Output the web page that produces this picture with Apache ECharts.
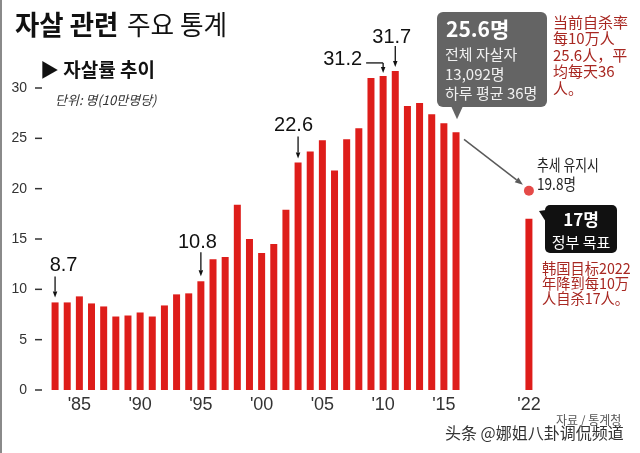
<!DOCTYPE html>
<html><head><meta charset="utf-8">
<script src="https://cdn.jsdelivr.net/npm/echarts@6/dist/echarts.min.js"></script>
<style>html,body{margin:0;padding:0;background:#fff}#c{width:640px;height:453px}</style>
</head><body><div id="c"></div>
<script>
// ---- data ----
const years = ['1983','1984','1985','1986','1987','1988','1989','1990','1991','1992',
  '1993','1994','1995','1996','1997','1998','1999','2000','2001','2002',
  '2003','2004','2005','2006','2007','2008','2009','2010','2011','2012',
  '2013','2014','2015','2016','2017','2018','2019','2020','2021','2022'];
const rates = [8.7,8.7,9.3,8.6,8.3,7.3,7.4,7.7,7.3,8.4,
  9.5,9.6,10.8,13.0,13.2,18.4,15.0,13.6,14.5,17.9,
  22.6,23.7,24.8,21.8,24.9,26.0,31.0,31.2,31.7,28.2,
  28.5,27.4,26.5,25.6,null,null,null,null,null,17.0];
const trendYear = '2022';
const trendValue = 19.8;
const yTicks = [0,5,10,15,20,25,30];
const xTickYears = ['1985','1990','1995','2000','2005','2010','2015','2022'];
const xTickLabels = ["'85","'90","'95","'00","'05","'10","'15","'22"];
const annotatedYears = ['1983','1995','2003','2011'];
const bracketYear = '2010';
const latestYear = '2016';

// ---- styles ----
const RED = '#de1d1a';
const NUM = '"Liberation Sans Narrow","Liberation Sans",Arial,sans-serif';
const KR = '"Noto Sans CJK KR","Noto Sans",sans-serif';
const SC = '"Noto Sans CJK SC",sans-serif';
const annoStyle = {
  '1983': {dx: 8.5, textGap: 37, arrowTop: 26, arrowGap: 5},
  '1995': {dx: -3.5, textGap: 38.5, arrowTop: 29, arrowGap: 5},
  '2003': {dx: -4.5, textGap: 37, arrowTop: 26, arrowGap: 4},
  '2011': {dx: -3.5, textGap: 33.5, arrowTop: 25, arrowGap: 4}
};

const chart = echarts.init(document.getElementById('c'), null, {renderer: 'canvas'});
chart.setOption({
  animation: false,
  backgroundColor: '#fff',
  grid: {left: 49, right: 105, top: 88, bottom: 63},
  xAxis: {
    type: 'category', data: years,
    axisLine: {show: false}, axisTick: {show: false},
    axisLabel: {
      interval: (i, v) => xTickYears.includes(v),
      formatter: v => xTickLabels[xTickYears.indexOf(v)] || '',
      fontFamily: NUM, fontSize: 18, color: '#333', margin: 6
    }
  },
  yAxis: {
    type: 'value', min: yTicks[0], max: yTicks[yTicks.length - 1], interval: yTicks[1] - yTicks[0],
    splitLine: {show: false},
    axisLine: {show: false},
    axisTick: {show: false},
    axisLabel: {
      fontFamily: NUM, fontSize: 14, color: '#333', margin: 7,
      formatter: v => '{v|' + v + '}{d|}',
      rich: {
        v: {fontFamily: NUM, fontSize: 14, color: '#333', padding: [0, 8, 0, 0]},
        d: {width: 7, height: 1.5, backgroundColor: '#333'}
      }
    }
  },
  series: [
    {type: 'bar', data: rates, barWidth: 7, clip: false, itemStyle: {color: RED}},
    {type: 'scatter', data: [[trendYear, trendValue]], symbolSize: 10, itemStyle: {color: RED}, z: 5}
  ]
});

function P(y, v) { return chart.convertToPixel({gridIndex: 0}, [y, v]); }
function T(text, x, y, o) {
  o = o || {};
  return {type: 'text', x: x, y: y, scaleX: o.sx || 1, originX: 0, originY: 0, z: 20,
    style: {text: text, fill: o.fill || '#222',
      font: (o.style || '') + ' ' + (o.weight || 'normal') + ' ' + (o.size || 14) + 'px ' + (o.family || KR),
      textAlign: o.align || 'left', textVerticalAlign: 'middle'}};
}
function arrow(x1, y1, x2, y2, color, w, hl, hw) {
  const a = Math.atan2(y2 - y1, x2 - x1);
  const bx = x2 - hl * Math.cos(a), by = y2 - hl * Math.sin(a);
  const px = -Math.sin(a) * hw / 2, py = Math.cos(a) * hw / 2;
  return [
    {type: 'line', z: 20, shape: {x1: x1, y1: y1, x2: bx, y2: by}, style: {stroke: color, lineWidth: w}},
    {type: 'polygon', z: 20, shape: {points: [[x2, y2], [bx + px, by + py], [bx - px, by - py]]}, style: {fill: color}}
  ];
}

const g = [];
// left border
g.push({type: 'rect', shape: {x: 0, y: 0, width: 2, height: 453}, style: {fill: '#8a8a8a'}, z: 20});
// titles
g.push(T('자살 관련', 15, 25, {size: 27, weight: 'bold', sx: 0.98, fill: '#111'}));
g.push(T('주요 통계', 127, 25, {size: 27, weight: 'normal', sx: 0.95, fill: '#111'}));
g.push(T('▶ 자살률 추이', 40, 70, {size: 19, weight: 'bold', fill: '#111'}));
g.push(T('단위: 명(10만명당)', 55, 100, {size: 13, style: 'italic', fill: '#333'}));

// annotations with arrows
annotatedYears.forEach(y => {
  const v = rates[years.indexOf(y)];
  const s = annoStyle[y];
  const p = P(y, v);
  g.push(T(v.toFixed(1), p[0] + s.dx, p[1] - s.textGap, {size: 20, family: NUM, align: 'center', fill: '#111'}));
  g.push(...arrow(p[0], p[1] - s.arrowTop, p[0], p[1] - s.arrowGap, '#111', 1.3, 6, 4.5));
});
// bracket arrow 2010
(function () {
  const v = rates[years.indexOf(bracketYear)];
  const p = P(bracketYear, v);
  g.push(T(v.toFixed(1), p[0] - 21, p[1] - 16.5, {size: 20, family: NUM, align: 'right', fill: '#111'}));
  g.push({type: 'line', z: 20, shape: {x1: p[0] - 17, y1: p[1] - 13, x2: p[0], y2: p[1] - 13}, style: {stroke: '#111', lineWidth: 1.3}});
  g.push(...arrow(p[0], p[1] - 13, p[0], p[1] - 3, '#111', 1.3, 6, 4.5));
})();

// gray callout for latest year
(function () {
  const v = rates[years.indexOf(latestYear)];
  const p = P(latestYear, v);
  const tipX = p[0] + 1, tipY = p[1] - 13;
  const bx = 437, by = 12, bw = 110, bh = 95;
  g.push({type: 'rect', z: 15, shape: {x: bx, y: by, width: bw, height: bh, r: 6}, style: {fill: '#646464'}});
  g.push({type: 'polygon', z: 15, shape: {points: [[tipX - 6, by + bh - 1], [tipX + 6, by + bh - 1], [tipX, tipY]]}, style: {fill: '#646464'}});
  g.push(T(v.toFixed(1) + '명', 446, 29, {size: 21, weight: 'bold', fill: '#fff'}));
  g.push(T('전체 자살자', 445, 54, {size: 15, fill: '#f0f0f0'}));
  g.push(T('13,092명', 445, 74, {size: 15, fill: '#f0f0f0'}));
  g.push(T('하루 평균 36명', 445, 93, {size: 15, fill: '#f0f0f0'}));
  // diagonal arrow to trend dot
  const q = P(trendYear, trendValue);
  g.push(...arrow(p[0] + 8, p[1] + 7, q[0] - 6, q[1] - 6, '#5a5a5a', 1.5, 8, 6));
})();

// trend text
g.push(T('추세 유지시', 537, 165, {size: 16, sx: 0.8, fill: '#222'}));
g.push(T(trendValue.toFixed(1) + '명', 537, 184, {size: 16, sx: 0.85, fill: '#222'}));

// black target callout
g.push({type: 'rect', z: 15, shape: {x: 545, y: 205, width: 72, height: 48, r: 5}, style: {fill: '#111'}});
g.push({type: 'polygon', z: 15, shape: {points: [[546, 210], [546, 222], [539, 211]]}, style: {fill: '#111'}});
g.push(T(rates[years.indexOf('2022')] + '명', 581, 220, {size: 17, weight: 'bold', align: 'center', fill: '#fff'}));
g.push(T('정부 목표', 581, 242, {size: 15, align: 'center', fill: '#fff'}));

// Chinese red notes
const RN = '#a82822';
['当前自杀率', '每10万人', '25.6人，平', '均每天36', '人。'].forEach((s, i) => {
  g.push(T(s, 553, 22 + i * 16.5, {size: 15, family: SC, fill: RN}));
});
['韩国目标2022', '年降到每10万', '人自杀17人。'].forEach((s, i) => {
  g.push(T(s, 542, 268 + i * 15, {size: 15, family: SC, fill: RN, sx: 0.95}));
});

// source / watermark
g.push(T('자료 / 통계청', 556, 420, {size: 12, fill: '#555'}));
g.push(T('头条 @娜姐八卦调侃频道', 445, 433, {size: 16, family: SC, fill: '#333'}));

chart.setOption({graphic: g});
</script></body></html>
